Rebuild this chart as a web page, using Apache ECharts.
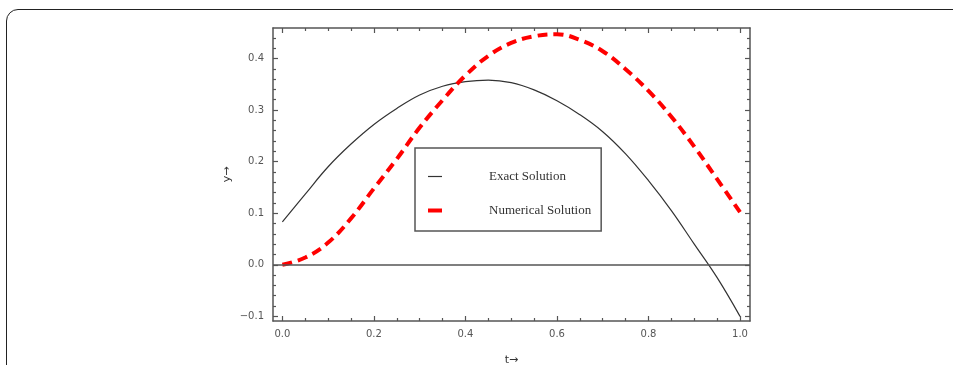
<!DOCTYPE html>
<html>
<head>
<meta charset="utf-8">
<script src="https://cdn.jsdelivr.net/npm/echarts@6/dist/echarts.min.js"></script>
<style>
  html, body { margin: 0; padding: 0; background: #fff; overflow: hidden; }
  #frame {
    position: absolute; left: 6px; top: 9px; width: 1100px; height: 600px;
    border: 1.3px solid #222; border-top-left-radius: 12px; box-sizing: border-box;
  }
  #chart { position: absolute; left: 0; top: 0; width: 953px; height: 365px; }
</style>
</head>
<body>
<div id="frame"></div>
<div id="chart"></div>
<script>
// values
const tValues = [0, 0.05, 0.1, 0.15, 0.2, 0.25, 0.3, 0.35, 0.4, 0.45, 0.5,
  0.55, 0.6, 0.65, 0.7, 0.75, 0.8, 0.85, 0.9, 0.95, 1.0]
const exactValues = [0.083, 0.137, 0.19, 0.234, 0.272, 0.303, 0.329, 0.346, 0.355, 0.358, 0.353,
  0.339, 0.318, 0.291, 0.258, 0.215, 0.163, 0.105, 0.040, -0.025, -0.100]
const numericalValues = [0.000, 0.014, 0.043, 0.090, 0.148, 0.205, 0.266, 0.319, 0.367, 0.405, 0.430,
  0.443, 0.447, 0.436, 0.414, 0.379, 0.337, 0.287, 0.229, 0.166, 0.102]

const xMajorTicks = [0, 0.2, 0.4, 0.6, 0.8, 1.0]
const xMinorTicks = [0.05, 0.1, 0.15, 0.25, 0.3, 0.35, 0.45, 0.5, 0.55, 0.65, 0.7, 0.75, 0.85, 0.9, 0.95]
const yMajorTicks = [-0.1, 0, 0.1, 0.2, 0.3, 0.4]
const yMinorTicks = [-0.08, -0.06, -0.04, -0.02, 0.02, 0.04, 0.06, 0.08, 0.12, 0.14, 0.16, 0.18,
  0.22, 0.24, 0.26, 0.28, 0.32, 0.34, 0.36, 0.38, 0.42, 0.44]

const xRange = [-0.0205, 1.0218]
const yRange = [-0.109, 0.459]

const frameColor = '#555'
const labelFont = { color: '#555', fontFamily: 'DejaVu Sans', fontSize: 10 }

function makeAxis(kind, position, major, withLine) {
  const range = kind === 'x' ? xRange : yRange
  const ticks = major ? (kind === 'x' ? xMajorTicks : yMajorTicks) : (kind === 'x' ? xMinorTicks : yMinorTicks)
  const showLabel = major && (position === 'bottom' || position === 'left')
  return {
    type: 'value',
    position,
    min: range[0],
    max: range[1],
    axisLine: { show: withLine, onZero: false, lineStyle: { color: frameColor, width: 1.5 } },
    axisTick: {
      show: true, inside: true, length: major ? 5 : 3, customValues: ticks,
      lineStyle: { color: frameColor, width: 1.2 },
    },
    axisLabel: {
      show: showLabel, customValues: ticks, margin: kind === 'x' ? 8 : 9, ...labelFont,
      formatter: (v) => v.toFixed(1).replace('-', '\u2212'),
    },
    splitLine: { show: false },
  }
}

const xAxes = [
  { ...makeAxis('x', 'bottom', true, true), name: 't\u2192', nameLocation: 'middle', nameGap: 34,
    nameMoveOverlap: false,
    nameTextStyle: { color: '#333', fontFamily: 'DejaVu Sans', fontSize: 11 } },
  makeAxis('x', 'bottom', false, false),
  makeAxis('x', 'top', true, true),
  makeAxis('x', 'top', false, false),
]
const yAxes = [
  { ...makeAxis('y', 'left', true, true), name: 'y\u2192', nameLocation: 'middle', nameGap: 40,
    nameMoveOverlap: false,
    nameTextStyle: { color: '#333', fontFamily: 'DejaVu Sans', fontSize: 11 } },
  makeAxis('y', 'left', false, false),
  makeAxis('y', 'right', true, true),
  makeAxis('y', 'right', false, false),
]

const chart = echarts.init(document.getElementById('chart'))
chart.setOption({
  animation: false,
  grid: { left: 273, top: 28, width: 477, height: 293, outerBoundsMode: 'none', containLabel: false },
  legend: {
    left: 415, top: 148,
    orient: 'vertical',
    itemWidth: 14, itemHeight: 4,
    itemGap: 21,
    padding: [22, 10, 14, 11],
    borderColor: '#555', borderWidth: 1.5,
    textStyle: { color: '#333', fontFamily: 'Liberation Serif', fontSize: 13, padding: [0, 0, 0, 42] },
    data: [
      { name: 'Exact Solution', lineStyle: { width: 1.2 }, itemStyle: { opacity: 0 } },
      { name: 'Numerical Solution', lineStyle: { type: 'solid', width: 4 }, itemStyle: { opacity: 0 } },
    ],
  },
  xAxis: xAxes,
  yAxis: yAxes,
  series: [
    {
      name: 'Exact Solution', type: 'line', smooth: 0.4, showSymbol: false, symbol: 'none',
      data: tValues.map((t, i) => [t, exactValues[i]]),
      lineStyle: { color: '#333', width: 1.2 },
      itemStyle: { color: '#333' },
      markLine: {
        silent: true, symbol: 'none', label: { show: false },
        lineStyle: { color: '#555', width: 1.5, type: 'solid' },
        data: [{ yAxis: 0 }],
      },
    },
    {
      name: 'Numerical Solution', type: 'line', smooth: 0.4, showSymbol: false, symbol: 'none',
      data: tValues.map((t, i) => [t, numericalValues[i]]),
      lineStyle: { color: '#ff0000', width: 4, type: [10, 6] },
      itemStyle: { color: '#ff0000' },
    },
  ],
})
</script>
</body>
</html>
